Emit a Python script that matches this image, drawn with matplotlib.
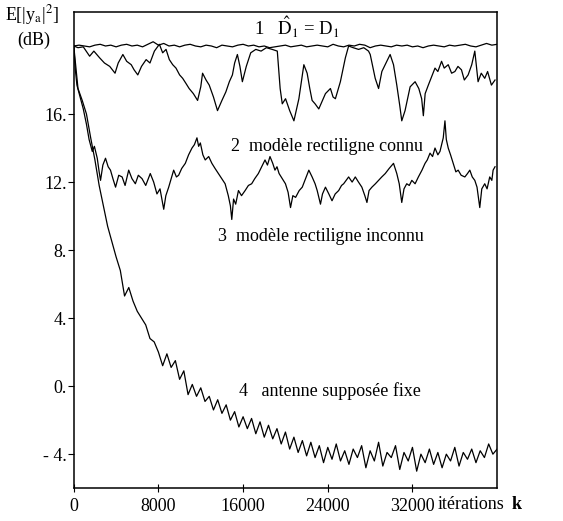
import matplotlib
matplotlib.use("Agg")
import matplotlib.pyplot as plt
import numpy as np

plt.rcParams['font.family'] = ['Liberation Serif', 'DejaVu Serif']
plt.rcParams['mathtext.fontset'] = 'stix'

# curve 1 : D1 estimated = D1 (flat)
k1 = np.arange(0, 40001, 500)
c1 = [20.0, 20.05, 20.0, 19.95, 20.05, 20.1, 20.0, 20.05, 19.95, 20.05,
      20.1, 20.0, 20.05, 19.95, 20.1, 20.25, 20.05, 20.15, 20.0, 20.05,
      19.95, 20.05, 20.1, 20.0, 19.95, 20.05, 20.0, 19.9, 20.05, 20.0,
      19.95, 20.05, 20.1, 20.0, 20.05, 19.95, 20.0, 19.9, 19.95, 20.0,
      20.05, 19.95, 20.0, 20.05, 19.95, 20.0, 20.05, 20.0, 19.95, 20.1,
      20.0, 19.95, 20.05, 20.0, 20.1, 20.05, 19.9, 20.0, 20.05, 20.0,
      19.95, 20.05, 20.0, 20.05, 19.95, 20.0, 19.9, 20.0, 20.05, 20.0,
      19.95, 20.05, 20.0, 20.05, 20.1, 20.0, 19.95, 20.05, 20.15, 20.05,
      20.1]

# curve 2 : modele rectiligne connu
k2 = [0, 400, 900, 1500, 1900, 2450, 2900, 3400, 3900, 4200, 4640, 5000, 5430,
      5700, 6050, 6400, 6840, 7200, 7620, 8090, 8400, 8720, 9030, 9350, 9660,
      10000, 10290, 10600, 10900, 11300, 11700, 12000, 12170, 12500, 12800,
      13200, 13580, 14000, 14370, 14700, 14990, 15200, 15460, 15700, 15930,
      16300, 16720, 17200, 17700, 18200, 18750, 19230, 19500, 19700, 20010,
      20400, 20800, 21270, 21740, 22050, 22300, 22520, 22800, 23150, 23500,
      23780, 24250, 24500, 24720, 25190, 25660, 25970, 26400, 26910, 27400,
      27850, 28010, 28480, 28800, 29110, 29500, 29890, 30210, 30520, 30800,
      30990, 31300, 31780, 32250, 32600, 32870, 33030, 33200, 33500, 34130,
      34400, 34750, 35000, 35380, 35700, 36010, 36300, 36630, 36900, 37260,
      37600, 37890, 38200, 38500, 38830, 39100, 39460, 39800]
c2 = [20.0, 19.9, 19.95, 19.4, 19.7, 19.3, 19.0, 18.8, 18.4, 19.0, 19.5, 19.1, 18.9,
      18.6, 18.3, 18.8, 19.2, 19.0, 19.7, 20.1, 19.6, 19.8, 19.2, 18.9, 18.7,
      18.3, 18.1, 17.8, 17.5, 17.2, 16.8, 17.6, 18.4, 18.0, 17.7,
      17.0, 16.2, 16.8, 17.3, 17.9, 18.3, 19.0, 19.5, 18.8, 17.9,
      18.8, 19.6, 19.8, 19.7, 19.9, 19.8, 19.7, 17.5, 16.6, 16.9,
      16.2, 15.6, 16.9, 18.9, 18.4, 17.5, 16.8, 16.6, 16.3, 16.8,
      17.2, 17.5, 17.0, 16.9, 17.9, 19.3, 20.0, 19.9, 19.8, 19.9,
      19.7, 19.5, 18.1, 17.5, 18.5, 19.0, 19.5, 18.9, 17.7, 16.5,
      15.6, 16.2, 17.6, 17.9, 17.5, 16.9, 15.9, 17.2, 17.7, 18.7,
      18.5, 19.1, 18.7, 18.9, 18.4, 18.5, 18.8, 18.6, 18.0, 18.3,
      18.9, 19.7, 17.9, 18.4, 18.1, 18.5, 17.7, 18.0]

# curve 3 : modele rectiligne inconnu
k3 = [0, 150, 300, 600, 900, 1200, 1450, 1750, 1950, 2220, 2400, 2530, 2750, 3000,
      3250, 3470, 3700, 3950, 4250, 4570, 4850, 5190, 5500, 5820, 6100, 6450,
      6800, 7230, 7550, 7860, 8150, 8350, 8500, 8700, 8970, 9200, 9440, 9700,
      9910, 10200, 10540, 10850, 11170, 11400, 11640, 11800, 11960, 12200,
      12420, 12750, 13050, 13350, 13670, 14000, 14300, 14600, 14800, 14930,
      15100, 15300, 15560, 15850, 16190, 16500, 16810, 17100, 17440, 17750,
      18070, 18300, 18540, 18800, 19010, 19200,
      19400, 19700, 20000, 20250, 20480, 20700, 20960, 21300, 21590, 21900,
      22210, 22520, 22800, 23000, 23310, 23500, 23780, 24100, 24400, 24700,
      25030, 25300, 25500, 25970, 26300, 26600, 26900, 27220, 27500, 27700,
      27900, 28170, 28500, 28800, 29100, 29430, 29800, 30210, 30520, 30750,
      30990, 31200, 31460, 31700, 31940, 32250, 32560, 32900, 33190, 33400,
      33660, 33900, 34130, 34400, 34600, 34800, 34910, 35070, 35200, 35380,
      35600, 35850, 36100, 36320, 36600, 36950, 37200, 37420, 37650, 37890,
      38100, 38360, 38550, 38830, 39050, 39300, 39500, 39620, 39800]
c3 = [20.0, 18.6, 17.7, 17.0, 16.3, 15.4, 14.5, 13.8, 14.1, 13.4, 12.6, 12.1, 13.0, 13.4,
      12.9, 12.7, 12.2, 11.7, 12.4, 12.3, 11.8, 12.7, 12.2, 11.9, 12.4, 12.2,
      11.8, 12.5, 12.0, 11.3, 11.6, 10.9, 10.4, 11.2, 11.7, 12.2, 12.7, 12.3,
      12.4, 12.8, 13.1, 13.6, 14.0, 14.2, 14.6, 14.1, 14.3, 13.6,
      13.3, 13.5, 13.1, 12.8, 12.5, 12.2, 11.9, 11.2, 10.6, 9.8,
      11.0, 10.7, 11.5, 11.2, 11.5, 11.8, 11.9, 12.2, 12.5, 12.9,
      13.3, 13.0, 13.5, 13.1, 12.7, 12.9,
      12.5, 12.2, 11.9, 11.4, 10.5, 11.2, 11.1, 11.5, 11.7, 12.2,
      12.7, 12.3, 11.9, 11.5, 10.7, 11.3, 11.7, 11.3, 10.9, 11.3,
      11.5, 11.8, 11.9, 12.3, 12.0, 12.3, 12.0, 11.7, 11.2, 10.8,
      11.5, 11.7, 11.9, 12.1, 12.3, 12.5, 12.8, 13.1, 12.5, 11.9,
      10.8, 11.6, 11.9, 11.8, 12.1, 11.9, 12.3, 12.7, 13.1, 13.3,
      13.7, 13.5, 14.0, 13.6, 13.8, 14.3, 14.6, 15.6, 14.5, 14.0,
      13.6, 13.1, 12.6, 12.7, 12.4, 12.3, 12.5, 12.7, 12.3, 12.1,
      11.7, 10.5, 11.6, 11.9, 11.6, 12.3, 12.1, 12.7, 12.9]

# curve 4 : antenne supposee fixe
k4 = np.arange(0, 40001, 400)
c4 = [20.0, 17.5, 16.8, 16.0, 14.6, 13.3, 11.8, 10.6, 9.4, 8.5,
      7.6, 6.8, 5.3, 5.8, 5.0, 4.4, 4.0, 3.6, 2.8, 2.6,
      2.0, 1.2, 1.9, 1.1, 1.5, 0.4, 0.9, -0.5, 0.1, -0.6,
      -0.1, -0.9, -0.6, -1.4, -0.8, -1.6, -1.1, -2.0, -1.5, -2.4,
      -1.8, -2.5, -1.9, -2.8, -2.1, -3.0, -2.3, -3.1, -2.5, -3.4,
      -2.7, -3.7, -3.0, -3.9, -3.2, -4.1, -3.3, -4.2, -3.5, -4.5,
      -3.6, -4.3, -3.4, -4.4, -3.8, -4.6, -3.7, -4.2, -3.5, -4.8,
      -3.8, -4.4, -3.3, -4.7, -3.9, -4.2, -3.5, -4.9, -3.9, -4.4,
      -3.6, -5.0, -4.0, -4.5, -3.7, -4.6, -3.9, -4.8, -4.0, -4.4,
      -3.6, -4.7, -3.9, -4.3, -3.7, -4.5, -3.8, -4.2, -3.4, -4.0,
      -3.7]

yticks = [16, 12, 8, 4, 0, -4]
ytick_labels = ['16.', '12.', '8.', '4.', '0.', '- 4.']
xticks = [0, 8000, 16000, 24000, 32000]
xtick_labels = ['0', '8000', '16000', '24000', '32000']

fig = plt.figure(figsize=(5.63, 5.21), dpi=100)
ax = fig.add_axes([0.131, 0.063, 0.752, 0.914])

for k, c in [(k1, c1), (k2, c2), (k3, c3), (k4, c4)]:
    ax.plot(k, c, color='black', lw=0.9)

ax.set_xlim(0, 40000)
ax.set_ylim(-6, 22)
ax.set_yticks(yticks)
ax.set_yticklabels(ytick_labels)
ax.set_xticks(xticks)
ax.set_xticklabels(xtick_labels)
ax.tick_params(axis='y', direction='out', length=4, labelsize=13, pad=1)
ax.tick_params(axis='x', direction='inout', length=6, labelsize=13, pad=4)
for s in ax.spines.values():
    s.set_linewidth(1.1)

ax.text(17000, 21.1, r'1   $\hat{\mathrm{D}}_1$ = D$_1$', fontsize=13.5, va='center')
ax.text(14900, 14.1, '2  modèle rectiligne connu', fontsize=13, va='center')
ax.text(13600, 8.8, '3  modèle rectiligne inconnu', fontsize=13, va='center')
ax.text(15600, -0.3, '4   antenne supposée fixe', fontsize=13, va='center')

fig.text(0.008, 0.972, r'E[|y$_\mathrm{a}$|$^2$]', fontsize=13, va='center')
fig.text(0.03, 0.922, '(dB)', fontsize=13, va='center')
fig.text(0.778, 0.031, 'itérations', fontsize=13, va='center')
fig.text(0.908, 0.031, 'k', fontsize=13, va='center', fontweight='bold')

fig.savefig('out.png', dpi=100)
